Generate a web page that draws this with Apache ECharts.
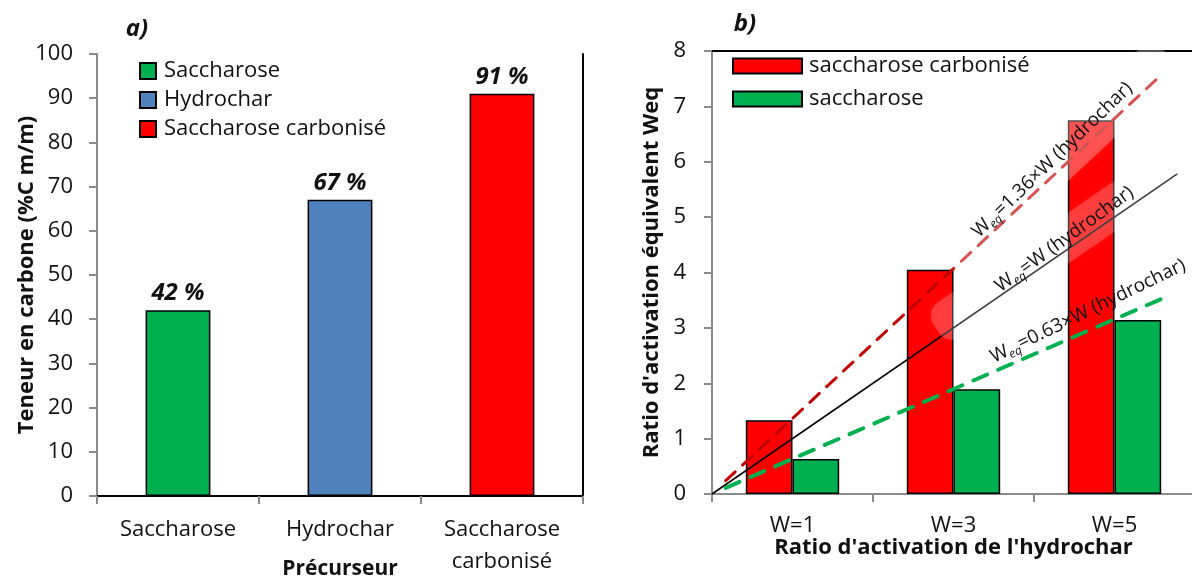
<!DOCTYPE html>
<html>
<head>
<meta charset="utf-8">
<script src="https://cdn.jsdelivr.net/npm/echarts@6/dist/echarts.min.js"></script>
<style>
  html, body { margin: 0; padding: 0; background: #fff; }
  #chart { width: 1192px; height: 578px; }
</style>
</head>
<body>
<div id="chart"></div>
<script>
// ---- Panel a): carbon content of each precursor (%C m/m) ----
const precursorCategories = ['Saccharose', 'Hydrochar', 'Saccharose\ncarbonisé'];
const precursorNames = ['Saccharose', 'Hydrochar', 'Saccharose carbonisé'];
const carbonContent = [42, 67, 91];

// ---- Panel b): equivalent activation ratio Weq vs hydrochar ratio W ----
const ratioLabels = ['W=1', 'W=3', 'W=5'];
const weqCarbonised = [1.33, 4.05, 6.75];
const weqSucrose = [0.63, 1.89, 3.14];

// Reference lines [W, Weq] end points and their annotations
const lineCarbonised = [[0.17, 0.24], [5.59, 7.58]];
const lineIdentity = [[0, 0], [5.78, 5.78]];
const lineSucrose = [[0.17, 0.11], [5.61, 3.54]];
const lineFormulas = ['=1.36×W (hydrochar)', '=W (hydrochar)', '=0.63×W (hydrochar)'];

const FONT = "'Open Sans', 'Noto Sans', sans-serif";
const INK = '#111';
const AXIS_GREY = '#8a8a8a';
const colorsA = ['#00B050', '#4F81BD', '#FF0000'];

const chart = echarts.init(document.getElementById('chart'), null, { renderer: 'canvas' });

const txt = (size, extra) => Object.assign({ fontFamily: FONT, fontSize: size, color: INK }, extra || {});

const option = {
  animation: false,
  backgroundColor: '#fff',
  textStyle: { fontFamily: FONT },
  grid: [
    { left: 97, top: 54, width: 486, height: 442, outerBoundsMode: 'none', containLabel: false },
    { left: 712, top: 51, width: 483, height: 443, outerBoundsMode: 'none', containLabel: false }
  ],
  legend: [
    {
      orient: 'vertical', left: 139, top: 60, padding: 0, itemGap: 7,
      itemWidth: 16, itemHeight: 16, icon: 'rect',
      data: precursorNames,
      textStyle: txt(22, { lineHeight: 22, padding: [0, 0, 0, 3] })
    },
    {
      orient: 'vertical', left: 732, top: 55, padding: 0, itemGap: 11,
      itemWidth: 69, itemHeight: 15, icon: 'rect',
      data: ['saccharose carbonisé', 'saccharose'],
      textStyle: txt(22, { lineHeight: 22, padding: [0, 0, 0, 2] })
    }
  ],
  xAxis: [
    {
      gridIndex: 0, type: 'category', data: precursorCategories, position: 'bottom',
      axisLine: { lineStyle: { color: AXIS_GREY, width: 2 } },
      axisTick: { show: true, length: 8, lineStyle: { color: AXIS_GREY, width: 2 } },
      axisLabel: txt(22, { margin: 18, lineHeight: 32 }),
      name: 'Précurseur', nameLocation: 'middle', nameGap: 63, nameMoveOverlap: false,
      nameTextStyle: txt(21, { fontWeight: 'bold' })
    },
    {
      gridIndex: 0, type: 'category', data: precursorCategories, position: 'top',
      axisLine: { lineStyle: { color: '#000', width: 2 } },
      axisTick: { show: false }, axisLabel: { show: false }
    },
    {
      gridIndex: 1, type: 'category', data: ratioLabels, position: 'bottom',
      axisLine: { lineStyle: { color: AXIS_GREY, width: 2 } },
      axisTick: { show: true, length: 8, lineStyle: { color: AXIS_GREY, width: 2 } },
      axisLabel: txt(22, { margin: 18, lineHeight: 28 }),
      name: "Ratio d'activation de l'hydrochar", nameLocation: 'middle', nameGap: 43, nameMoveOverlap: false,
      nameTextStyle: txt(22, { fontWeight: 'bold' })
    },
    {
      gridIndex: 1, type: 'value', min: 0, max: 6, position: 'top',
      axisLine: { show: true, lineStyle: { color: '#000', width: 2 } },
      axisTick: { show: false }, axisLabel: { show: false }, splitLine: { show: false }
    }
  ],
  yAxis: [
    {
      gridIndex: 0, type: 'value', min: 0, max: 100, interval: 10, position: 'left',
      axisLine: { show: true, lineStyle: { color: AXIS_GREY, width: 2 } },
      axisTick: { show: true, length: 8, lineStyle: { color: AXIS_GREY, width: 2 } },
      axisLabel: txt(22, { margin: 24 }),
      splitLine: { show: false },
      name: 'Teneur en carbone (%C m/m)', nameLocation: 'middle', nameGap: 59, nameRotate: 90,
      nameMoveOverlap: false,
      nameTextStyle: txt(22, { fontWeight: 'bold' })
    },
    {
      gridIndex: 0, type: 'value', min: 0, max: 100, position: 'right',
      axisLine: { show: true, lineStyle: { color: '#000', width: 2 } },
      axisTick: { show: false }, axisLabel: { show: false }, splitLine: { show: false }
    },
    {
      gridIndex: 1, type: 'value', min: 0, max: 8, interval: 1, position: 'left',
      axisLine: { show: true, lineStyle: { color: AXIS_GREY, width: 2 } },
      axisTick: { show: true, length: 8, lineStyle: { color: AXIS_GREY, width: 2 } },
      axisLabel: txt(22, { margin: 26 }),
      splitLine: { show: false },
      name: "Ratio d'activation équivalent Weq", nameLocation: 'middle', nameGap: 49, nameRotate: 90,
      nameMoveOverlap: false,
      nameTextStyle: txt(22, { fontWeight: 'bold' })
    }
  ],
  series: [
    // panel a) — one stacked series per precursor so each gets a legend entry
    ...precursorNames.map((name, i) => ({
      type: 'bar', name, stack: 'carbon', xAxisIndex: 0, yAxisIndex: 0, barWidth: '40%',
      data: carbonContent.map((v, j) => (j === i ? v : '-')),
      itemStyle: { color: colorsA[i], borderColor: '#000', borderWidth: 1.5 },
      label: {
        show: true, position: 'top', distance: 5, formatter: '{c} %',
        fontFamily: FONT, fontSize: 24, fontWeight: 'bold', fontStyle: 'italic', color: INK
      }
    })),
    // panel b) bars
    {
      type: 'bar', name: 'saccharose carbonisé', xAxisIndex: 2, yAxisIndex: 2,
      barWidth: '29%', barGap: '0%', data: weqCarbonised,
      itemStyle: { color: '#FF0000', borderColor: '#000', borderWidth: 1.5 }
    },
    {
      type: 'bar', name: 'saccharose', xAxisIndex: 2, yAxisIndex: 2,
      barWidth: '29%', barGap: '0%', data: weqSucrose,
      itemStyle: { color: '#00B050', borderColor: '#000', borderWidth: 1.5 }
    },
    // panel b) reference lines
    {
      type: 'line', name: 'Weq carbonisé', xAxisIndex: 3, yAxisIndex: 2, symbol: 'none', z: 5,
      data: lineCarbonised,
      lineStyle: { color: '#C00000', width: 3, type: [13, 10], cap: 'round' }
    },
    {
      type: 'line', name: 'Weq identité', xAxisIndex: 3, yAxisIndex: 2, symbol: 'none', z: 5,
      data: lineIdentity,
      lineStyle: { color: '#000', width: 1.6, type: 'solid' }
    },
    {
      type: 'line', name: 'Weq saccharose', xAxisIndex: 3, yAxisIndex: 2, symbol: 'none', z: 5,
      data: lineSucrose,
      lineStyle: { color: '#00B050', width: 4, type: [15, 12], cap: 'round' }
    }
  ]
};

chart.setOption(option);

// ---- Annotations placed along the reference lines ----
const lineSeriesIndex = [5, 6, 7];
const lineData = [lineCarbonised, lineIdentity, lineSucrose];

function lineGeometry(k) {
  const d = lineData[k];
  const p0 = chart.convertToPixel({ seriesIndex: lineSeriesIndex[k] }, d[0]);
  const p1 = chart.convertToPixel({ seriesIndex: lineSeriesIndex[k] }, d[1]);
  const theta = Math.atan2(-(p1[1] - p0[1]), p1[0] - p0[0]);
  const at = (w) => {
    const t = (w - d[0][0]) / (d[1][0] - d[0][0]);
    return [p0[0] + t * (p1[0] - p0[0]), p0[1] + t * (p1[1] - p0[1])];
  };
  const n = [-Math.sin(theta), -Math.cos(theta)];
  return { theta, at, n };
}

// label layout: anchor W along the line, offset above it (px), extra tilt (deg)
const labelLayout = [
  { w: 4.33, off: 12, tilt: 1.0 },
  { w: 4.45, off: 10, tilt: 1.5 },
  { w: 4.76, off: 18, tilt: 2.5 }
];
// translucent text-box backgrounds: W range along the line, offsets below/above, opacity
const boxLayout = [
  { k: 0, w0: 3.0, w1: 5.75, lo: -14, hi: 34, a: 0.27 },
  { k: 1, w0: 2.85, w1: 6.1, lo: -12, hi: 30, a: 0.2 }
];

const graphics = [];
boxLayout.forEach((b) => {
  const g = lineGeometry(b.k);
  const a = g.at(b.w0), c = g.at(b.w1);
  const mid = (b.lo + b.hi) / 2;
  const cx = (a[0] + c[0]) / 2 + mid * g.n[0];
  const cy = (a[1] + c[1]) / 2 + mid * g.n[1];
  const L = Math.hypot(c[0] - a[0], c[1] - a[1]);
  const H = b.hi - b.lo;
  graphics.push({
    type: 'rect', x: cx, y: cy, rotation: g.theta, z: 20, silent: true,
    shape: { x: -L / 2, y: -H / 2, width: L, height: H, r: 16 },
    style: { fill: 'rgba(255,255,255,' + b.a + ')', shadowBlur: 10, shadowColor: 'rgba(255,255,255,0.3)' }
  });
});

lineFormulas.forEach((f, k) => {
  const g = lineGeometry(k);
  const L = labelLayout[k];
  const p = g.at(L.w);
  graphics.push({
    type: 'text', z: 30, silent: true,
    x: p[0] + L.off * g.n[0], y: p[1] + L.off * g.n[1],
    rotation: g.theta + L.tilt * Math.PI / 180,
    style: {
      text: '{w|W}{s|eq}{t|' + f + '}',
      align: 'center', verticalAlign: 'middle',
      rich: {
        w: { fontFamily: FONT, fontSize: 19, lineHeight: 23, fill: INK },
        s: { fontFamily: FONT, fontSize: 12, fontStyle: 'italic', lineHeight: 13, verticalAlign: 'bottom', fill: INK },
        t: { fontFamily: FONT, fontSize: 19, lineHeight: 23, fill: INK }
      }
    }
  });
});

// panel letters
graphics.push(
  { type: 'text', x: 137, y: 29, z: 30, style: { text: 'a)', font: "italic bold 24px " + FONT, fill: INK, align: 'center', verticalAlign: 'middle' } },
  { type: 'text', x: 745, y: 24, z: 30, style: { text: 'b)', font: "italic bold 24px " + FONT, fill: INK, align: 'center', verticalAlign: 'middle' } }
);

chart.setOption({ graphic: graphics });
</script>
</body>
</html>
